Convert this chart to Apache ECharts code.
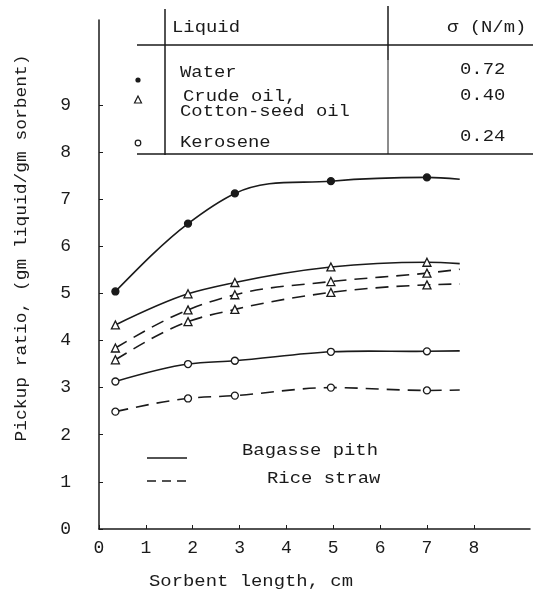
<!DOCTYPE html>
<html>
<head>
    <meta charset="utf-8">
    <title>Pickup ratio vs sorbent length</title>
    <script src="https://cdn.jsdelivr.net/npm/echarts@6/dist/echarts.min.js"></script>
</head>
<body style="margin:0;background:#fff;">
    <div id="main" style="width:533px;height:604px;"></div>
    <script type="text/javascript">
        // sorbent lengths (cm) at which points were measured, last one = end of fitted curve
        var lengths = [0.35, 1.9, 2.9, 4.95, 7.0, 7.7];

        // pickup ratio, gm liquid / gm sorbent
        var waterBagasse = [5.04, 6.48, 7.12, 7.38, 7.46, 7.42];
        var oilBagasse = [4.33, 4.99, 5.23, 5.56, 5.66, 5.63];
        var oilStrawA = [3.84, 4.65, 4.97, 5.25, 5.43, 5.51];
        var oilStrawB = [3.59, 4.40, 4.66, 5.02, 5.18, 5.20];
        var keroBagasse = [3.13, 3.50, 3.57, 3.76, 3.77, 3.78];
        var keroStraw = [2.49, 2.77, 2.83, 3.0, 2.94, 2.95];

        var xTicks = [0, 1, 2, 3, 4, 5, 6, 7, 8];
        var yTicks = [0, 1, 2, 3, 4, 5, 6, 7, 8, 9];

        // legend table
        var liquids = ['Water', 'Crude oil,', 'Cotton-seed oil', 'Kerosene'];
        var tensions = ['0.72', '0.40', '0.24'];

        var FONT = "'Liberation Mono', 'DejaVu Sans Mono', monospace";
        var INK = '#1a1a1a';

        // smooth cubic through pixel points (weighted 3-point tangents) -> svg path
        function smoothPath(p) {
            var n = p.length, m = [], s = [], h = [];
            for (var i = 0; i < n - 1; i++) {
                h[i] = p[i + 1][0] - p[i][0];
                s[i] = (p[i + 1][1] - p[i][1]) / h[i];
            }
            for (i = 1; i < n - 1; i++) {
                var a = s[i - 1], b = s[i];
                m[i] = a * b <= 0 ? 0 : (a * h[i] + b * h[i - 1]) / (h[i - 1] + h[i]);
            }
            m[0] = (3 * s[0] - m[1]) / 2;
            m[n - 1] = (3 * s[n - 2] - m[n - 2]) / 2;
            var d = 'M' + p[0][0] + ' ' + p[0][1];
            for (i = 0; i < n - 1; i++) {
                var dx = h[i] / 3;
                d += ' C' + (p[i][0] + dx) + ' ' + (p[i][1] + m[i] * dx) + ' ' +
                    (p[i + 1][0] - dx) + ' ' + (p[i + 1][1] - m[i + 1] * dx) + ' ' +
                    p[i + 1][0] + ' ' + p[i + 1][1];
            }
            return d;
        }

        function curve(name, vals, dashed) {
            return {
                name: name,
                type: 'custom',
                data: lengths.map(function (x, i) { return [x, vals[i]]; }),
                encode: { x: 0, y: 1 },
                renderItem: function (params, api) {
                    if (params.dataIndex !== 0) return null;
                    var p = lengths.map(function (x, i) { return api.coord([x, vals[i]]); });
                    return {
                        type: 'path',
                        shape: { pathData: smoothPath(p) },
                        style: {
                            fill: 'none',
                            stroke: INK,
                            lineWidth: 1.6,
                            lineDash: dashed ? [13, 8] : null
                        }
                    };
                },
                silent: true,
                animation: false
            };
        }

        function marks(name, vals, symbol, size, filled) {
            return {
                name: name,
                type: 'scatter',
                // last entry is only the end of the drawn curve, no measured point
                data: lengths.slice(0, -1).map(function (x, i) { return [x, vals[i]]; }),
                symbol: symbol,
                symbolSize: size,
                itemStyle: { color: filled ? INK : '#fff', borderColor: INK, borderWidth: 1.3, opacity: 1 },
                z: 3,
                animation: false
            };
        }

        function txt(x, y, s, extra) {
            var o = {
                type: 'text',
                x: x,
                y: y,
                scaleX: 1.18,
                style: {
                    text: s,
                    font: '16px ' + FONT,
                    fill: INK,
                    verticalAlign: 'middle'
                }
            };
            if (extra) {
                for (var k in extra) o[k] = extra[k];
            }
            return o;
        }

        function seg(x1, y1, x2, y2, w, dash) {
            return {
                type: 'line',
                shape: { x1: x1, y1: y1, x2: x2, y2: y2 },
                style: { stroke: INK, lineWidth: w || 1.5, lineDash: dash || null }
            };
        }

        var myChart = echarts.init(document.getElementById('main'));

        var option = {
            backgroundColor: '#fff',
            grid: { left: 99, right: 3, top: 20, bottom: 75 },
            xAxis: {
                type: 'value',
                min: 0,
                max: 9.2,
                interval: 1,
                splitLine: { show: false },
                axisLine: { lineStyle: { color: INK, width: 1.5 } },
                axisTick: { inside: true, length: 4, customValues: xTicks, lineStyle: { color: INK } },
                axisLabel: {
                    customValues: xTicks,
                    margin: 10,
                    color: INK,
                    fontSize: 18,
                    fontFamily: FONT
                }
            },
            yAxis: {
                type: 'value',
                min: 0,
                max: 10.8,
                interval: 1,
                splitLine: { show: false },
                axisLine: { show: true, lineStyle: { color: INK, width: 1.5 } },
                axisTick: { show: true, inside: true, length: 4, customValues: yTicks, lineStyle: { color: INK } },
                axisLabel: {
                    customValues: yTicks,
                    margin: 28,
                    color: INK,
                    fontSize: 18,
                    fontFamily: FONT
                }
            },
            series: [
                curve('Water, bagasse pith', waterBagasse, false),
                curve('Oil, bagasse pith', oilBagasse, false),
                curve('Oil, rice straw (upper)', oilStrawA, true),
                curve('Oil, rice straw (lower)', oilStrawB, true),
                curve('Kerosene, bagasse pith', keroBagasse, false),
                curve('Kerosene, rice straw', keroStraw, true),
                marks('Water points', waterBagasse, 'circle', 7, true),
                marks('Oil points (bagasse)', oilBagasse, 'triangle', 8, false),
                marks('Oil points (straw, upper)', oilStrawA, 'triangle', 8, false),
                marks('Oil points (straw, lower)', oilStrawB, 'triangle', 8, false),
                marks('Kerosene points (bagasse)', keroBagasse, 'circle', 7, false),
                marks('Kerosene points (straw)', keroStraw, 'circle', 7, false)
            ],
            graphic: [
                // table rules
                seg(137, 45, 533, 45),
                seg(137, 154, 533, 154),
                seg(165, 9, 165, 155),
                seg(388, 6, 388, 60),
                seg(388, 60, 388, 154, 1),
                // header
                txt(172, 28, 'Liquid'),
                txt(447, 28, 'σ (N/m)'),
                // rows
                txt(180, 73, liquids[0]),
                txt(183, 97, liquids[1]),
                txt(180, 112, liquids[2]),
                txt(180, 143, liquids[3]),
                txt(460, 70, tensions[0]),
                txt(460, 96, tensions[1]),
                txt(460, 137, tensions[2]),
                // symbols
                { type: 'circle', shape: { cx: 138, cy: 80, r: 2.6 }, style: { fill: INK } },
                { type: 'polygon', shape: { points: [[138, 96], [134.5, 103], [141.5, 103]] }, style: { fill: 'none', stroke: INK, lineWidth: 1.2 } },
                { type: 'circle', shape: { cx: 138, cy: 143, r: 2.8 }, style: { fill: 'none', stroke: INK, lineWidth: 1.2 } },
                // line style legend
                seg(147, 458, 187, 458, 1.6),
                seg(147, 481, 187, 481, 1.6, [9, 6]),
                txt(242, 451, 'Bagasse pith'),
                txt(267, 479, 'Rice straw'),
                // axis titles
                txt(251, 582, 'Sorbent length, cm', { style: { text: 'Sorbent length, cm', font: '16px ' + FONT, fill: INK, align: 'center', verticalAlign: 'middle' } }),
                txt(22, 248, 'Pickup ratio, (gm liquid/gm sorbent)', {
                    rotation: Math.PI / 2,
                    scaleX: 1.12,
                    style: { text: 'Pickup ratio, (gm liquid/gm sorbent)', font: '16px ' + FONT, fill: INK, align: 'center', verticalAlign: 'middle' }
                })
            ]
        };

        myChart.setOption(option);
    </script>
</body>
</html>
